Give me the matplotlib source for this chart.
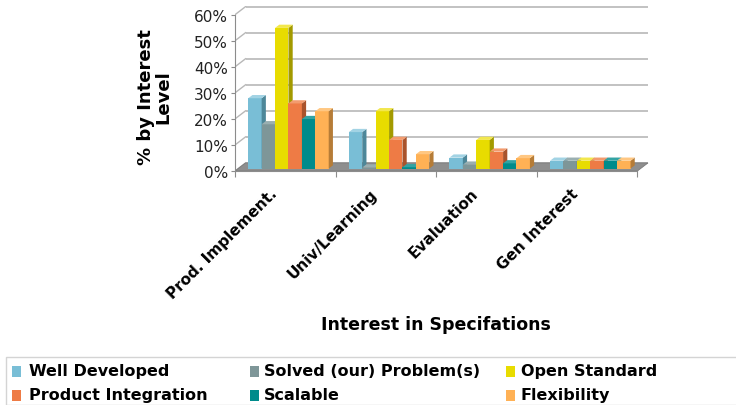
import matplotlib
matplotlib.use("Agg")
import matplotlib.pyplot as plt
from matplotlib.patches import Polygon, Rectangle
from matplotlib.transforms import offset_copy

# ---- data ----
categories = ["Prod. Implement.", "Univ/Learning", "Evaluation", "Gen Interest"]
series_names = ["Well Developed", "Solved (our) Problem(s)", "Open Standard",
                "Product Integration", "Scalable", "Flexibility"]
well_developed = [27, 14, 4.2, 3]
solved_problems = [17, 0.4, 1.5, 3]
open_standard = [54, 22, 11, 3]
product_integration = [25, 11, 6.5, 3]
scalable = [19, 0.5, 2, 3]
flexibility = [22, 5.5, 4, 3]
y_ticks = [0, 10, 20, 30, 40, 50, 60]
y_tick_labels = ["0%", "10%", "20%", "30%", "40%", "50%", "60%"]

series_values = [well_developed, solved_problems, open_standard,
                 product_integration, scalable, flexibility]

# front / side / top shades for each series
front_colors = ["#79BED6", "#7E9698", "#E8DC00", "#EE7B45", "#008B8B", "#FFB155"]
side_colors = ["#4D8799", "#56696B", "#A39A00", "#A9532C", "#005F61", "#B67C37"]
top_colors = ["#A2D3E4", "#9AAFB1", "#F2E74D", "#F39B6E", "#33A3A3", "#FFC782"]

W, H = 736, 406
fig = plt.figure(figsize=(W / 100, H / 100), dpi=100)
fig.patch.set_facecolor("white")

X_PX = 100.6   # pixels per category
Y_PX = 2.605   # pixels per percent
XMAX, YMAX = 4.12, 63.3
ax = fig.add_axes([235 / W, (H - 172) / H, XMAX * X_PX / W, YMAX * Y_PX / H])
ax.set_xlim(0, XMAX)
ax.set_ylim(0, YMAX)
ax.set_facecolor("none")

DX, DY = 0.105, 3.1          # depth of the floor / walls in data units
bar_w = 1 / 7.5              # gap width 150%
f0, t = 0.3, 0.4             # bar depth position and thickness (fractions)
grid_c = "#B8B8B8"

# back wall gridlines and left wall diagonals
for v in y_ticks:
    ax.plot([DX, 4 + DX], [v + DY, v + DY], color=grid_c, lw=1.2, zorder=1,
            solid_capstyle="butt")
    ax.plot([0, DX], [v, v + DY], color=grid_c, lw=1.0, zorder=1)

# floor
ax.add_patch(Polygon([(0, 0), (4, 0), (4 + DX, DY), (DX, DY)], closed=True,
                     facecolor="#8E8E8E", edgecolor="#7A7A7A", lw=0.6, zorder=2))

# bars
for c in range(len(categories)):
    for i, vals in enumerate(series_values):
        v = vals[c]
        z = 3 + c + 0.1 * i
        xl = c + 0.75 * bar_w + i * bar_w + f0 * DX
        b = f0 * DY
        ax.bar(xl, v, width=bar_w, bottom=b, align="edge",
               color=front_colors[i], edgecolor="none", zorder=z)
        xr = xl + bar_w
        ax.add_patch(Polygon([(xr, b), (xr + t * DX, b + t * DY),
                              (xr + t * DX, b + v + t * DY), (xr, b + v)],
                             closed=True, facecolor=side_colors[i],
                             edgecolor="none", zorder=z))
        ax.add_patch(Polygon([(xl, b + v), (xr, b + v),
                              (xr + t * DX, b + v + t * DY),
                              (xl + t * DX, b + v + t * DY)],
                             closed=True, facecolor=top_colors[i],
                             edgecolor="none", zorder=z))

# axes lines and ticks
for side in ["top", "right"]:
    ax.spines[side].set_visible(False)
ax.spines["left"].set_bounds(0, 60)
ax.spines["left"].set_color("#8C8C8C")
ax.spines["bottom"].set_bounds(0, 4)
ax.spines["bottom"].set_color("#8C8C8C")
ax.set_yticks(y_ticks)
ax.set_yticklabels(y_tick_labels)
ax.tick_params(axis="y", direction="out", length=3, color="#8C8C8C",
               labelsize=11, labelcolor="#222222", pad=2)
ax.set_xticks([0, 1, 2, 3, 4])
ax.set_xticklabels([])
ax.tick_params(axis="x", direction="out", length=4, color="#8C8C8C")

# category labels
for c, name in enumerate(categories):
    tr = offset_copy(ax.transData, fig=fig, x=-11, y=-20, units="dots")
    ax.text(c + 0.5, 0, name, transform=tr, rotation=45, ha="right",
            va="center", rotation_mode="anchor", fontsize=11,
            fontweight="bold", color="black")

# axis titles
fig.text(436 / W, 1 - 325 / H, "Interest in Specifations", ha="center",
         va="center", fontsize=12.5, fontweight="bold")
fig.text(155 / W, 1 - 97 / H, "% by Interest\nLevel", ha="center",
         va="center", rotation=90, multialignment="center", fontsize=13,
         fontweight="bold", linespacing=0.95)

# legend
fig.patches.append(Rectangle((6 / W, 0), 1, 1 - 358 / H,
                             transform=fig.transFigure, facecolor="white",
                             edgecolor="#D4D4D4", lw=1.0))
col_sq = [12, 250, 506]
col_tx = [29, 264, 521]
row_y = [372, 396]
for k, name in enumerate(series_names):
    r, col = divmod(k, 3)
    cy = row_y[r]
    fig.patches.append(Rectangle((col_sq[col] / W, 1 - (cy + 5.5) / H),
                                 9 / W, 11 / H, transform=fig.transFigure,
                                 facecolor=front_colors[k], edgecolor="none"))
    fig.text(col_tx[col] / W, 1 - cy / H, name, ha="left", va="center",
             fontsize=11.5, fontweight="bold")

fig.savefig("out.png", dpi=100)
